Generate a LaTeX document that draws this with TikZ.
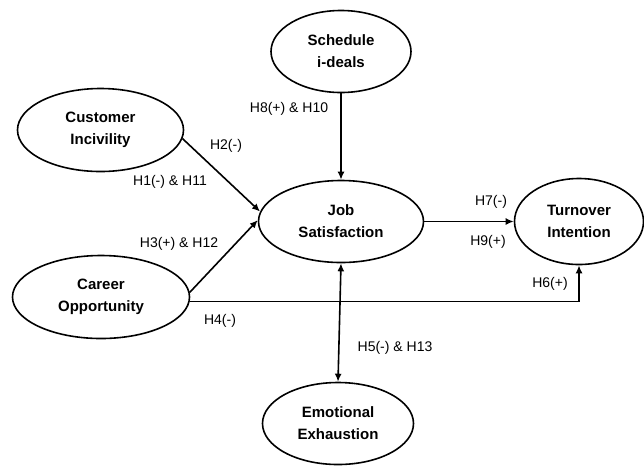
\documentclass[tikz,border=0pt]{standalone}
\usepackage{fontspec}
\setmainfont{Liberation Sans}
\usetikzlibrary{shapes.geometric, arrows.meta}

\begin{document}
\begin{tikzpicture}[x=1pt, y=-1pt, >={Latex[length=8pt, width=7pt]},
  construct/.style={draw, ellipse, line width=1.6pt, inner sep=0pt, align=center,
    font=\fontsize{15}{22}\selectfont\bfseries},
  link/.style={line width=1.6pt},
  hyp/.style={font=\fontsize{14}{17}\selectfont}]
\useasboundingbox (0,0) rectangle (644,467);
%% constructs
\node [construct, minimum width = 140pt, minimum height = 82pt] (sched) at (341,51.5) {Schedule\\i-deals};
\node [construct, minimum width = 166pt, minimum height = 83pt] (cust) at (100.5,130) {Customer\\Incivility};
\node [construct, minimum width = 165pt, minimum height = 82pt] (job) at (341,221.5) {Job\\Satisfaction};
\node [construct, minimum width = 129pt, minimum height = 86pt] (turn) at (579,221.5) {Turnover\\Intention};
\node [construct, minimum width = 177pt, minimum height = 83pt] (career) at (101,297) {Career\\Opportunity};
\node [construct, minimum width = 151pt, minimum height = 82pt] (emo) at (338,423.5) {Emotional\\Exhaustion};
%% paths
\draw [link, ->] (sched.south) -- (job.north);
\draw [link, ->] (cust.-6) -- (job.173);
\draw [link, ->] (career.3) -- (job.179);
\draw [link, ->] (job.east) -- (turn.west);
\draw [link, ->] (career.-3) -| (turn.south);
\draw [link, <->] (job.south) -- (emo.north);
%% hypotheses
\node [hyp] (h8) at (289,109) {H8(+) \& H10};
\node [hyp] (h2) at (226,146) {H2(-)};
\node [hyp] (h1) at (170,182) {H1(-) \& H11};
\node [hyp] (h3) at (179,244) {H3(+) \& H12};
\node [hyp] (h4) at (220,321) {H4(-)};
\node [hyp] (h5) at (395,348) {H5(-) \& H13};
\node [hyp] (h7) at (491,202) {H7(-)};
\node [hyp] (h9) at (488,242) {H9(+)};
\node [hyp] (h6) at (550,284) {H6(+)};
\end{tikzpicture}
\end{document}
